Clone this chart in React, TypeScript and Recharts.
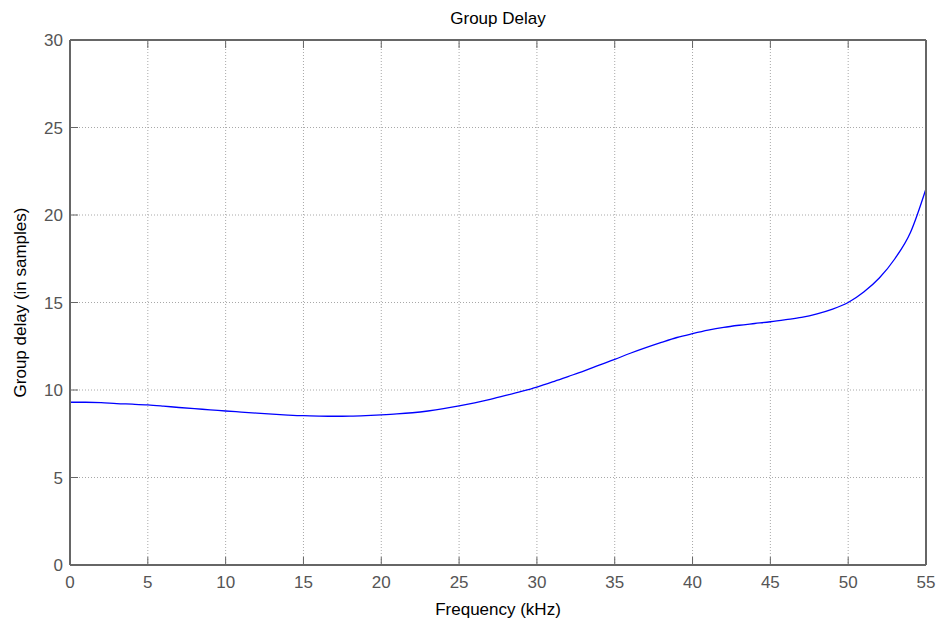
import React from 'react';
import { LineChart, Line, XAxis, YAxis, CartesianGrid } from 'recharts';

// frequency in kHz
const freqs = [
  0, 1, 2, 3, 4, 5, 6, 7, 8, 9, 10, 11, 12, 13, 14, 15, 16, 17, 18, 19, 20, 21, 22, 23, 24, 25, 26, 27,
  28, 29, 30, 31, 32, 33, 34, 35, 36, 37, 38, 39, 40, 41, 42, 43, 44, 45, 46, 47, 48, 49, 50, 51, 52, 53,
  54, 55,
];

// group delay in samples
const delays = [
  9.3, 9.3, 9.28, 9.22, 9.19, 9.15, 9.08, 9.0, 8.93, 8.87, 8.8, 8.74, 8.68, 8.62, 8.57, 8.53, 8.51, 8.5,
  8.51, 8.54, 8.58, 8.63, 8.7, 8.8, 8.93, 9.09, 9.27, 9.47, 9.69, 9.92, 10.17, 10.46, 10.77, 11.08, 11.42,
  11.75, 12.1, 12.42, 12.72, 13.0, 13.22, 13.42, 13.58, 13.7, 13.8, 13.9, 14.02, 14.15, 14.35, 14.62,
  15.0, 15.6, 16.4, 17.5, 19.0, 21.5,
];

const xTicks = [0, 5, 10, 15, 20, 25, 30, 35, 40, 45, 50, 55];
const yTicks = [0, 5, 10, 15, 20, 25, 30];

const data = freqs.map((f, i) => ({ f, delay: delays[i] }));

const FONT = '"Liberation Sans", Arial, sans-serif';
const BOX = '#666666';
const TICK_TEXT = '#555555';
const TICK_LEN = 8;

const BottomTick = (props: any) => {
  const { x, y, payload } = props;
  return (
    <g>
      <line x1={x} y1={y} x2={x} y2={y - TICK_LEN} stroke={BOX} strokeWidth={1} />
      <text x={x} y={y + 23} textAnchor="middle" fill={TICK_TEXT} fontSize={17} fontFamily={FONT}>
        {payload.value}
      </text>
    </g>
  );
};

const TopTick = (props: any) => {
  const { x, y } = props;
  return <line x1={x} y1={y} x2={x} y2={y + TICK_LEN} stroke={BOX} strokeWidth={1} />;
};

const LeftTick = (props: any) => {
  const { x, y, payload } = props;
  return (
    <g>
      <line x1={x} y1={y} x2={x + TICK_LEN} y2={y} stroke={BOX} strokeWidth={1} />
      <text x={x - 7} y={y + 6} textAnchor="end" fill={TICK_TEXT} fontSize={17} fontFamily={FONT}>
        {payload.value}
      </text>
    </g>
  );
};

const RightTick = (props: any) => {
  const { x, y } = props;
  return <line x1={x} y1={y} x2={x - TICK_LEN} y2={y} stroke={BOX} strokeWidth={1} />;
};

export default function App() {
  return (
    <div style={{ position: 'absolute', left: 0, top: 0, width: 940, height: 623, background: '#fff' }}>
      <LineChart
        width={940}
        height={623}
        data={data}
        margin={{ top: 36, right: 10, bottom: 28, left: 12 }}
      >
        <CartesianGrid
          stroke="#a8a8a8"
          strokeDasharray="1 2"
          xAxisId="bottom"
          yAxisId="left"
          horizontalValues={yTicks}
          verticalValues={xTicks}
        />
        <XAxis
          xAxisId="bottom"
          dataKey="f"
          type="number"
          domain={[0, 55]}
          ticks={xTicks}
          interval={0}
          height={30}
          tickSize={0}
          tickMargin={0}
          tick={<BottomTick />}
          axisLine={{ stroke: BOX, strokeWidth: 2 }}
          label={{
            value: 'Frequency (kHz)',
            position: 'bottom',
            offset: 8,
            fill: '#000',
            fontSize: 17,
            fontFamily: FONT,
          }}
        />
        <XAxis
          xAxisId="top"
          orientation="top"
          dataKey="f"
          type="number"
          domain={[0, 55]}
          ticks={xTicks}
          interval={0}
          height={4}
          tickSize={0}
          tickMargin={0}
          tick={<TopTick />}
          axisLine={{ stroke: BOX, strokeWidth: 2 }}
          label={{
            value: 'Group Delay',
            position: 'top',
            offset: 12,
            fill: '#000',
            fontSize: 17,
            fontFamily: FONT,
          }}
        />
        <YAxis
          yAxisId="left"
          type="number"
          domain={[0, 30]}
          ticks={yTicks}
          interval={0}
          width={58}
          tickSize={0}
          tickMargin={0}
          tick={<LeftTick />}
          axisLine={{ stroke: BOX, strokeWidth: 2 }}
          label={{
            value: 'Group delay (in samples)',
            angle: -90,
            position: 'insideLeft',
            offset: 8,
            fill: '#000',
            fontSize: 17,
            fontFamily: FONT,
            style: { textAnchor: 'middle' },
          }}
        />
        <YAxis
          yAxisId="right"
          orientation="right"
          type="number"
          domain={[0, 30]}
          ticks={yTicks}
          interval={0}
          width={4}
          tickSize={0}
          tickMargin={0}
          tick={<RightTick />}
          axisLine={{ stroke: BOX, strokeWidth: 2 }}
        />
        <Line
          xAxisId="bottom"
          yAxisId="left"
          type="monotone"
          dataKey="delay"
          stroke="#0000ff"
          strokeWidth={1.3}
          dot={false}
          isAnimationActive={false}
        />
      </LineChart>
    </div>
  );
}
